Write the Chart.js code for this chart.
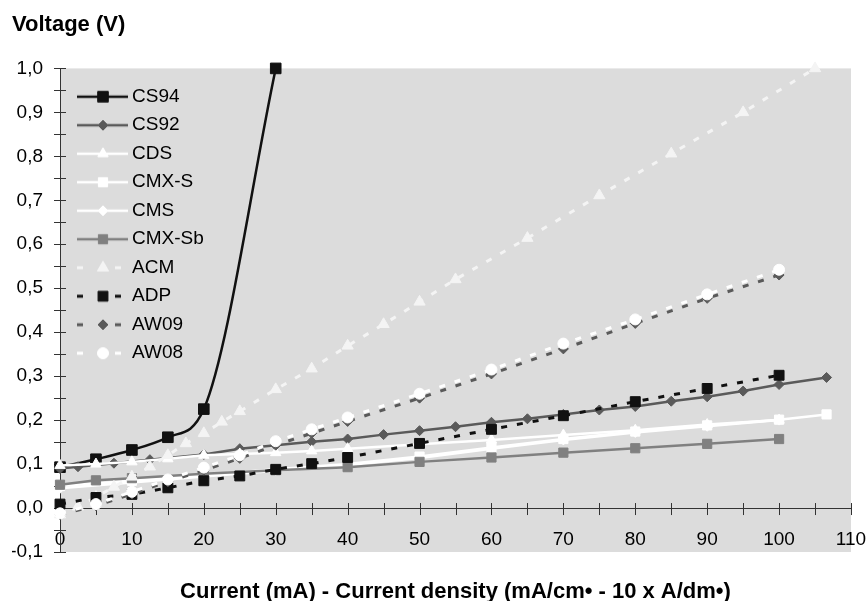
<!DOCTYPE html>
<html>
<head>
<meta charset="utf-8">
<script src="https://cdn.jsdelivr.net/npm/chart.js@4/dist/chart.umd.min.js"></script>
<style>
  html, body { margin: 0; padding: 0; background: #fff; }
</style>
</head>
<body>
<canvas id="chart" width="868" height="601"></canvas>
<script>
// current (mA) and voltage (V) read per series
const cs94X = [0, 5, 10, 15, 20, 30];
const cs94Y = [0.093, 0.111, 0.132, 0.161, 0.225, 1.0];

const cs92X = [0, 2.5, 7.5, 12.5, 20, 25, 30, 35, 40, 45, 50, 55, 60, 65, 70, 75, 80, 85, 90, 95, 100, 106.6];
const cs92Y = [0.09, 0.094, 0.102, 0.11, 0.122, 0.135, 0.143, 0.151, 0.157, 0.167, 0.176, 0.185, 0.195, 0.203, 0.213, 0.223, 0.231, 0.243, 0.253, 0.266, 0.281, 0.297];

const cdsX = [0, 5, 10, 15, 20, 25, 30, 35, 40, 50, 60, 70, 80, 90, 100];
const cdsY = [0.097, 0.1, 0.105, 0.112, 0.12, 0.123, 0.126, 0.13, 0.135, 0.145, 0.155, 0.166, 0.177, 0.19, 0.2];

const cmxsX = [0, 10, 20, 30, 40, 50, 60, 70, 80, 90, 100, 106.6];
const cmxsY = [0.05, 0.062, 0.075, 0.088, 0.1, 0.117, 0.138, 0.157, 0.174, 0.188, 0.201, 0.213];

const cmsX = [0, 10, 20, 30, 40, 50, 60, 70, 80, 90, 100];
const cmsY = [0.045, 0.058, 0.072, 0.085, 0.098, 0.114, 0.135, 0.155, 0.172, 0.186, 0.2];

const cmxsbX = [0, 5, 10, 20, 30, 40, 50, 60, 70, 80, 90, 100];
const cmxsbY = [0.053, 0.063, 0.068, 0.078, 0.086, 0.093, 0.105, 0.115, 0.126, 0.136, 0.146, 0.157];

const acmX = [0, 2.5, 5, 7.5, 10, 12.5, 15, 17.5, 20, 22.5, 25, 30, 35, 40, 45, 50, 55, 65, 75, 85, 95, 105];
const acmY = [-0.015, 0.003, 0.025, 0.048, 0.071, 0.094, 0.12, 0.147, 0.17, 0.196, 0.22, 0.27, 0.317, 0.369, 0.418, 0.469, 0.52, 0.614, 0.711, 0.806, 0.9, 1.0];

const adpX = [0, 5, 10, 15, 20, 25, 30, 35, 40, 50, 60, 70, 80, 90, 100];
const adpY = [0.009, 0.024, 0.031, 0.046, 0.062, 0.073, 0.088, 0.101, 0.115, 0.147, 0.179, 0.21, 0.242, 0.272, 0.302];

const aw09X = [0, 5, 10, 15, 20, 25, 30, 35, 40, 50, 60, 70, 80, 90, 100];
const aw09Y = [-0.015, 0.005, 0.032, 0.06, 0.086, 0.113, 0.143, 0.17, 0.197, 0.25, 0.305, 0.362, 0.42, 0.477, 0.53];

const aw08X = [0, 5, 10, 15, 20, 25, 30, 35, 40, 50, 60, 70, 80, 90, 100];
const aw08Y = [-0.012, 0.009, 0.037, 0.065, 0.092, 0.12, 0.152, 0.179, 0.206, 0.26, 0.315, 0.374, 0.429, 0.486, 0.542];

function pts(xs, ys) {
    return xs.map((x, i) => ({x: x, y: ys[i]}));
}

function series(label, xs, ys, color, style, radius, dashed) {
    return {
        label: label,
        data: pts(xs, ys),
        borderColor: color,
        backgroundColor: color,
        pointBackgroundColor: color,
        pointBorderColor: color,
        pointBorderWidth: 1,
        pointStyle: style,
        pointRadius: radius,
        borderWidth: dashed ? 3 : 2.5,
        borderDash: dashed ? [6, 10] : [],
        fill: false,
        clip: false
    };
}

const datasets = [
    series('CS94', cs94X, cs94Y, '#111111', 'rect', 7.5, false),
    series('CS92', cs92X, cs92Y, '#5a5a5a', 'rectRot', 5, false),
    series('CDS', cdsX, cdsY, '#ffffff', 'triangle', 6, false),
    series('CMX-S', cmxsX, cmxsY, '#ffffff', 'rect', 6.5, false),
    series('CMS', cmsX, cmsY, '#ffffff', 'rectRot', 5, false),
    series('CMX-Sb', cmxsbX, cmxsbY, '#808080', 'rect', 6.5, false),
    series('ACM', acmX, acmY, '#f4f4f4', 'triangle', 6.5, true),
    series('ADP', adpX, adpY, '#111111', 'rect', 7, true),
    series('AW09', aw09X, aw09Y, '#5a5a5a', 'rectRot', 5, true),
    series('AW08', aw08X, aw08Y, '#ffffff', 'circle', 5.5, true)
];
datasets[0].cubicInterpolationMode = 'monotone';
// later series on top, like the spreadsheet
datasets.forEach((d, i) => { d.order = -i; });

// little line + marker picture for the legend
function legendSample(ds) {
    const c = document.createElement('canvas');
    c.width = 66;
    c.height = 20;
    const g = c.getContext('2d');
    g.strokeStyle = ds.borderColor;
    g.lineWidth = ds.borderWidth;
    g.setLineDash(ds.borderDash.length ? [6, 32] : []);
    g.beginPath();
    g.moveTo(14, 10);
    g.lineTo(65, 10);
    g.stroke();
    g.setLineDash([]);
    g.fillStyle = ds.pointBackgroundColor;
    g.strokeStyle = ds.pointBorderColor;
    g.lineWidth = 1;
    Chart.helpers.drawPoint(g, {pointStyle: ds.pointStyle, radius: ds.pointRadius, rotation: 0, borderWidth: 1}, 40, 10);
    return c;
}

// grey plot area, spanning the two scales
const plotBg = {
    id: 'plotBg',
    beforeDraw(chart) {
        const xs = chart.scales.x;
        const ys = chart.scales.y;
        const ctx = chart.ctx;
        const l = xs.getPixelForValue(xs.min), r = xs.getPixelForValue(xs.max);
        const t = ys.getPixelForValue(ys.max), b = ys.getPixelForValue(ys.min);
        ctx.save();
        ctx.fillStyle = '#dcdcdc';
        ctx.fillRect(l, t, r - l, b - t);
        ctx.restore();
    }
};

// tick marks crossing both axes
const crossTicks = {
    id: 'crossTicks',
    beforeDatasetsDraw(chart) {
        const ctx = chart.ctx;
        const xs = chart.scales.x;
        const ys = chart.scales.y;
        const y0 = ys.getPixelForValue(0);
        const left = chart.chartArea.left;
        ctx.save();
        ctx.strokeStyle = '#333';
        ctx.lineWidth = 1;
        ctx.beginPath();
        xs.ticks.forEach(t => {
            const px = Math.round(xs.getPixelForValue(t.value)) + 0.5;
            ctx.moveTo(px, y0 - 5);
            ctx.lineTo(px, y0 + 7);
        });
        ys.ticks.forEach(t => {
            const py = Math.round(ys.getPixelForValue(t.value)) + 0.5;
            ctx.moveTo(left - 6, py);
            ctx.lineTo(left + 6, py);
        });
        ctx.stroke();
        ctx.restore();
    }
};

Chart.defaults.font.family = '"Liberation Sans", Arial, sans-serif';
Chart.defaults.color = '#000';

const config = {
    type: 'line',
    data: { datasets: datasets },
    options: {
        responsive: false,
        animation: false,
        layout: { padding: { left: 12, right: 17, top: 0, bottom: 49 } },
        scales: {
            x: {
                type: 'linear',
                position: { y: 0 },
                min: 0,
                max: 110,
                ticks: {
                    stepSize: 5,
                    maxTicksLimit: 40,
                    autoSkip: false,
                    maxRotation: 0,
                    padding: 20,
                    font: { size: 19 },
                    callback: v => (v % 10 === 0 ? v : '')
                },
                grid: { drawOnChartArea: false, drawTicks: false },
                border: { color: '#333', width: 1 },
                title: {
                    display: true,
                    text: 'Current (mA) - Current density (mA/cm• - 10 x A/dm•)',
                    font: { size: 22, weight: 'bold' },
                    padding: { top: 8, bottom: 0 }
                },
                afterFit: s => { s.paddingLeft = 0; s.paddingRight = 0; }
            },
            y: {
                min: -0.1,
                max: 1.0,
                ticks: {
                    stepSize: 0.05,
                    maxTicksLimit: 40,
                    autoSkip: false,
                    padding: 17,
                    font: { size: 19 },
                    callback: v => (Math.round(v * 100) % 10 === 0 ? v.toFixed(1).replace('.', ',') : '')
                },
                grid: { drawOnChartArea: false, drawTicks: false },
                border: { color: '#333', width: 1 },
                afterFit: s => { s.width = 48; }
            }
        },
        plugins: {
            title: {
                display: true,
                text: 'Voltage (V)',
                align: 'start',
                font: { size: 22, weight: 'bold' },
                padding: { top: 12, bottom: 30 }
            },
            legend: {
                position: 'chartArea',
                align: 'start',
                // blank title only pushes the entries down to where they sit in the plot
                title: { display: true, text: ' ', font: { size: 6 }, padding: { top: 70.5, bottom: 0 } },
                labels: {
                    usePointStyle: true,
                    pointStyleWidth: 53,
                    padding: 9.5,
                    font: { size: 19 },
                    generateLabels: chart => chart.data.datasets.map((ds, i) => ({
                        text: ds.label,
                        datasetIndex: i,
                        pointStyle: legendSample(ds),
                        fillStyle: 'transparent',
                        strokeStyle: 'transparent',
                        lineWidth: 0,
                        fontColor: '#000',
                        hidden: false
                    }))
                }
            },
            tooltip: { enabled: false }
        }
    },
    plugins: [plotBg, crossTicks]
};

const myChart = new Chart(document.getElementById('chart'), config);
</script>
</body>
</html>
